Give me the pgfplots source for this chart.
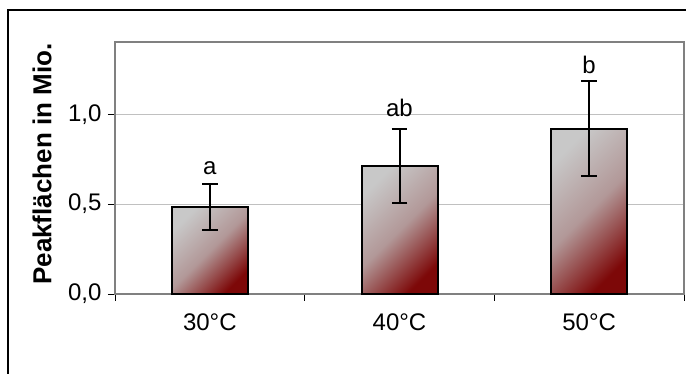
\documentclass[border=0pt]{standalone}
\usepackage{pgfplots}
\pgfplotsset{compat=1.18}
\usepackage{fontspec}
\setmainfont{Liberation Sans}
\definecolor{barlight}{RGB}{200,200,200}
\definecolor{bardark}{RGB}{125,8,8}
\definecolor{barmid}{RGB}{178,152,152}
\definecolor{axgray}{RGB}{128,128,128}
\definecolor{gridgray}{RGB}{192,192,192}
\begin{document}
\begin{tikzpicture}[x=1pt,y=1pt]
\useasboundingbox (0,0) rectangle (686,374);
\draw[black, line width=1.3pt] (8,-10) -- (8,364) -- (700,364);
\begin{axis}[
  at={(115pt,80pt)}, anchor=south west,
  scale only axis, width=569pt, height=251.7pt,
  xmin=-0.5, xmax=2.5, ymin=0, ymax=1.4,
  axis line style={draw=axgray, line width=1.6pt},
  xtick={0,1,2}, xticklabels={30°C,40°C,50°C},
  minor xtick={-0.5,0.5,1.5,2.5},
  ytick={0,0.5,1.0},
  tick align=outside,
  major tick length=7pt, minor tick length=7pt,
  major x tick style={draw=none},
  minor x tick style={draw=black, line width=0.8pt},
  y tick style={draw=black, line width=0.8pt},
  xtick pos=bottom, ytick pos=left,
  ymajorgrids, grid style={draw=gridgray, line width=0.8pt},
  /pgf/number format/assume math mode=true,
  /pgf/number format/fixed,
  /pgf/number format/fixed zerofill,
  /pgf/number format/precision=1,
  /pgf/number format/use comma,
  tick label style={font=\fontsize{24}{28}\selectfont},
  xticklabel style={yshift=-9pt},
  yticklabel style={anchor=east, xshift=-3pt},
  ylabel={Peakflächen in Mio.},
  every axis y label/.style={at={(axis description cs:-0.1283,0.516)}, rotate=90, anchor=center, font=\fontsize{26}{30}\selectfont\bfseries},
  clip=false,
  barstyle/.style={ybar, bar width=76pt, bar shift=0pt, draw=black, line width=2pt,
    top color=barlight, bottom color=bardark, middle color=barmid, shading angle=45},
]
\addplot[barstyle] coordinates {(0,0.482)};
\addplot[barstyle] coordinates {(1,0.711)};
\addplot[barstyle] coordinates {(2,0.920)};
\addplot[draw=none, mark=none, forget plot,
  error bars/.cd, y dir=both, y explicit,
  error bar style={draw=black, line width=2pt},
  error mark options={rotate=90, mark size=7.8pt, draw=black, line width=2pt}]
  coordinates {(0,0.482) +- (0,0.128) (1,0.711) +- (0,0.207) (2,0.920) +- (0,0.265)};
\node[anchor=base, font=\fontsize{24}{28}\selectfont] at (axis cs:0,0.667) {a};
\node[anchor=base, font=\fontsize{24}{28}\selectfont] at (axis cs:1,0.989) {ab};
\node[anchor=base, font=\fontsize{24}{28}\selectfont] at (axis cs:2,1.229) {b};
\end{axis}
\end{tikzpicture}
\end{document}
